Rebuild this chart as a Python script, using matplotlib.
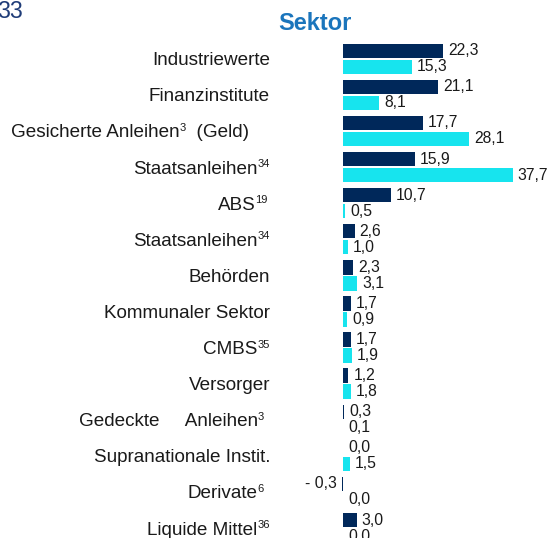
import matplotlib
matplotlib.use('Agg')
import matplotlib.pyplot as plt
from matplotlib.transforms import IdentityTransform

plt.rcParams['font.family'] = ['Liberation Sans', 'DejaVu Sans']

# Sektor-Aufteilung: Fonds (dunkelblau) und Vergleichsindex (türkis), in %
sektoren = [
    'Industriewerte',
    'Finanzinstitute',
    'Gesicherte Anleihen³  (Geld)',
    'Staatsanleihen³⁴',
    'ABS¹⁹',
    'Staatsanleihen³⁴',
    'Behörden',
    'Kommunaler Sektor',
    'CMBS³⁵',
    'Versorger',
    'Gedeckte     Anleihen³',
    'Supranationale Instit.',
    'Derivate⁶',
    'Liquide Mittel³⁶',
]
fonds = [22.3, 21.1, 17.7, 15.9, 10.7, 2.6, 2.3, 1.7, 1.7, 1.2, 0.3, 0.0, -0.3, 3.0]
index = [15.3, 8.1, 28.1, 37.7, 0.5, 1.0, 3.1, 0.9, 1.9, 1.8, 0.1, 1.5, 0.0, 0.0]

NAVY = '#00285a'
CYAN = '#17e4ee'
TEXT = '#1a1a1a'
W, H = 549, 538

fig = plt.figure(figsize=(W / 100, H / 100), dpi=100)
ax = fig.add_axes([0, 0, 1, 1])
ax.set_xlim(-343 / 4.5, (W - 343) / 4.5)
ax.set_ylim((H - 58.75) / 36.1, -58.75 / 36.1)
ax.axis('off')


def fmt(v):
    s = f'{abs(v):.1f}'.replace('.', ',')
    return f'- {s}' if v < 0 else s


pos = range(len(sektoren))
versatz = 0.2216
hoehe = 0.40
for serie, farbe, dy in [(fonds, NAVY, -versatz), (index, CYAN, versatz)]:
    ys = [p + dy for p in pos]
    ax.barh(ys, serie, height=hoehe, color=farbe, linewidth=0)
    for y, v in zip(ys, serie):
        links = v < 0
        ax.annotate(fmt(v), (v, y), xytext=(-5 if links else 5, 0),
                    textcoords='offset pixels', ha='right' if links else 'left',
                    va='center', fontsize=11.3, color=TEXT)

# Beschriftungen links; hochgestellte Ziffern als eigene kleine Texte
HOCH = '⁰¹²³⁴⁵⁶⁷⁸⁹'


def teile(name):
    out = []
    for ch in name:
        hoch = ch in HOCH
        if hoch:
            ch = str(HOCH.index(ch))
        if out and out[-1][1] == hoch:
            out[-1][0] += ch
        else:
            out.append([ch, hoch])
    return out


renderer = fig.canvas.get_renderer()
rechts = {2: 249, 10: 264, 12: 264}
for i, name in enumerate(sektoren):
    basis = H - (58.75 + 36.1 * i + 6.5)
    stuecke = []
    for txt, hoch in teile(name):
        t = fig.text(0, 0, txt, transform=IdentityTransform(), ha='left',
                     va='baseline', fontsize=8 if hoch else 13.6, color=TEXT)
        w = t.get_window_extent(renderer).width
        if hoch and txt.startswith('1'):
            w += 1.5  # die schmale Eins rückt sonst vom Wort ab
        stuecke.append((t, hoch, w))
    x = rechts.get(i, 270) - sum(w for _, _, w in stuecke)
    for t, hoch, w in stuecke:
        if hoch and t.get_text().startswith('1'):
            x -= 1.5
        t.set_position((x, basis + (6.5 if hoch else 0)))
        x += w

fig.text(314.5 / W, 1 - 23 / H, 'Sektor', ha='center', va='center',
         fontsize=17, fontweight='bold', color='#1b75bc')
fig.text(22.7 / W, 1 - 18.3 / H, '33', ha='right', va='baseline',
         fontsize=16.7, color='#1f3c78')

fig.savefig('out.png', dpi=100)
